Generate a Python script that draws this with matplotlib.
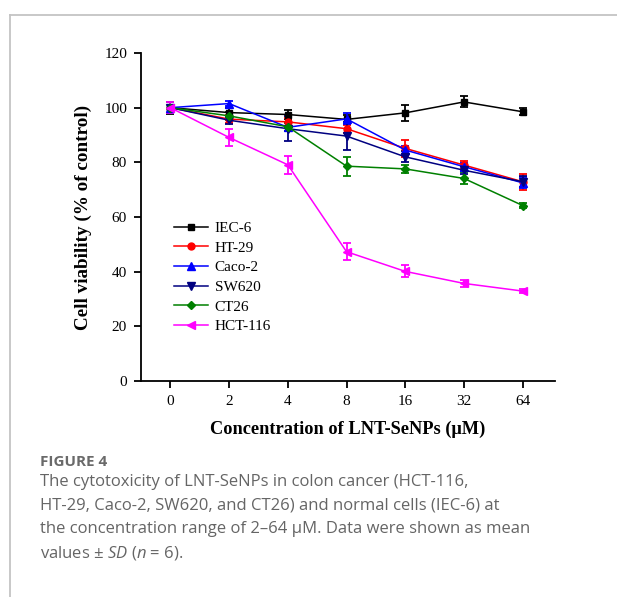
import numpy as np
import matplotlib
matplotlib.use("Agg")
import matplotlib.pyplot as plt
from matplotlib.lines import Line2D

# concentrations (uM), plotted at equal spacing
conc_labels = ['0', '2', '4', '8', '16', '32', '64']

cell_lines = ['IEC-6', 'HT-29', 'Caco-2', 'SW620', 'CT26', 'HCT-116']

iec6 = [100.0, 98.2, 97.5, 95.7, 98.1, 102.1, 98.5]
iec6_sd = [2.2, 1.5, 1.5, 1.5, 2.8, 2.0, 1.3]

ht29 = [100.0, 95.8, 94.8, 92.3, 85.1, 79.0, 72.9]
ht29_sd = [2.0, 1.5, 1.5, 1.5, 3.0, 1.5, 3.0]

caco2 = [100.0, 101.5, 92.8, 95.9, 84.5, 78.4, 72.5]
caco2_sd = [2.0, 1.0, 1.5, 2.0, 1.5, 1.5, 2.0]

sw620 = [100.0, 95.4, 92.3, 89.6, 82.0, 77.1, 72.9]
sw620_sd = [2.0, 1.5, 4.5, 5.0, 2.0, 1.5, 2.0]

ct26 = [100.0, 97.0, 93.0, 78.6, 77.6, 74.1, 64.2]
ct26_sd = [2.0, 1.5, 1.5, 3.5, 1.5, 2.2, 1.0]

hct116 = [100.0, 89.1, 79.1, 47.3, 40.1, 35.7, 32.9]
hct116_sd = [2.0, 3.2, 3.3, 3.2, 2.2, 1.2, 0.8]

values = [iec6, ht29, caco2, sw620, ct26, hct116]
errors = [iec6_sd, ht29_sd, caco2_sd, sw620_sd, ct26_sd, hct116_sd]
colors = ['black', 'red', 'blue', '#000080', 'green', 'magenta']
markers = ['s', 'o', '^', 'v', 'D', '<']
msizes = [5, 5, 5.5, 5.5, 4.5, 5.5]

serif = ['Liberation Serif', 'DejaVu Serif']

fig = plt.figure(figsize=(6.17, 5.97), dpi=100)

# frame of the figure panel
fig.add_artist(Line2D([9.5 / 617, 1.0], [1 - 14.5 / 597, 1 - 14.5 / 597],
                      transform=fig.transFigure, color='#c4c4c4', lw=1.3))
fig.add_artist(Line2D([9.5 / 617, 9.5 / 617], [0.0, 1 - 14.5 / 597],
                      transform=fig.transFigure, color='#c4c4c4', lw=1.3))

ax = fig.add_axes([141 / 617, 1 - 381 / 597, 414 / 617, 328 / 597])
x = np.arange(len(conc_labels))

handles = []
for name, y, err, c, m, ms in zip(cell_lines, values, errors, colors, markers, msizes):
    ax.errorbar(x, y, yerr=err, color=c, marker=m, markersize=ms, lw=1.1,
                elinewidth=1.3, capsize=3, capthick=1.3)
    handles.append(Line2D([], [], color=c, marker=m, markersize=ms, lw=1.1, label=name))

ax.set_xlim(-0.5, 6.55)
ax.set_ylim(0, 120)
ax.set_xticks(x)
ax.set_xticklabels(conc_labels)
ax.set_yticks(range(0, 121, 20))
ax.spines['top'].set_visible(False)
ax.spines['right'].set_visible(False)
ax.spines['left'].set_linewidth(1.3)
ax.spines['bottom'].set_linewidth(1.3)
ax.tick_params(direction='out', length=5, width=1.3, labelsize=11, pad=5)
for lab in ax.get_xticklabels() + ax.get_yticklabels():
    lab.set_family(serif)

ax.set_xlabel('Concentration of LNT-SeNPs (\u03bcM)', family=serif,
              fontsize=13.2, fontweight='bold', labelpad=9)
ax.set_ylabel('Cell viability (% of control)', family=serif,
              fontsize=13.8, fontweight='bold', labelpad=9)

ax.legend(handles=handles, loc='upper left', bbox_to_anchor=(0.065, 0.505),
          frameon=False, prop={'family': serif, 'size': 11}, handlelength=2.2,
          labelspacing=0.39, handletextpad=0.45, borderaxespad=0)

# caption
plt.rcParams['mathtext.fontset'] = 'custom'
plt.rcParams['mathtext.rm'] = 'Open Sans'
plt.rcParams['mathtext.it'] = 'Open Sans:italic'
cap_color = '#656565'
fig.text(40 / 617, 1 - 462 / 597, 'FIGURE 4', family='Open Sans', fontsize=11,
         fontweight='bold', color='#6a6a6a', va='center')
lines = ['The cytotoxicity of LNT-SeNPs in colon cancer (HCT-116,',
         'HT-29, Caco-2, SW620, and CT26) and normal cells (IEC-6) at',
         'the concentration range of 2\u201364 \u03bcM. Data were shown as mean',
         'values $\\pm$ $SD$ ($n$ = 6).']
for i, t in enumerate(lines):
    fig.text(40 / 617, 1 - (482 + i * 23.5) / 597, t, family='Open Sans',
             fontsize=12.0, color=cap_color, va='center')

fig.savefig('out.png', dpi=100)
